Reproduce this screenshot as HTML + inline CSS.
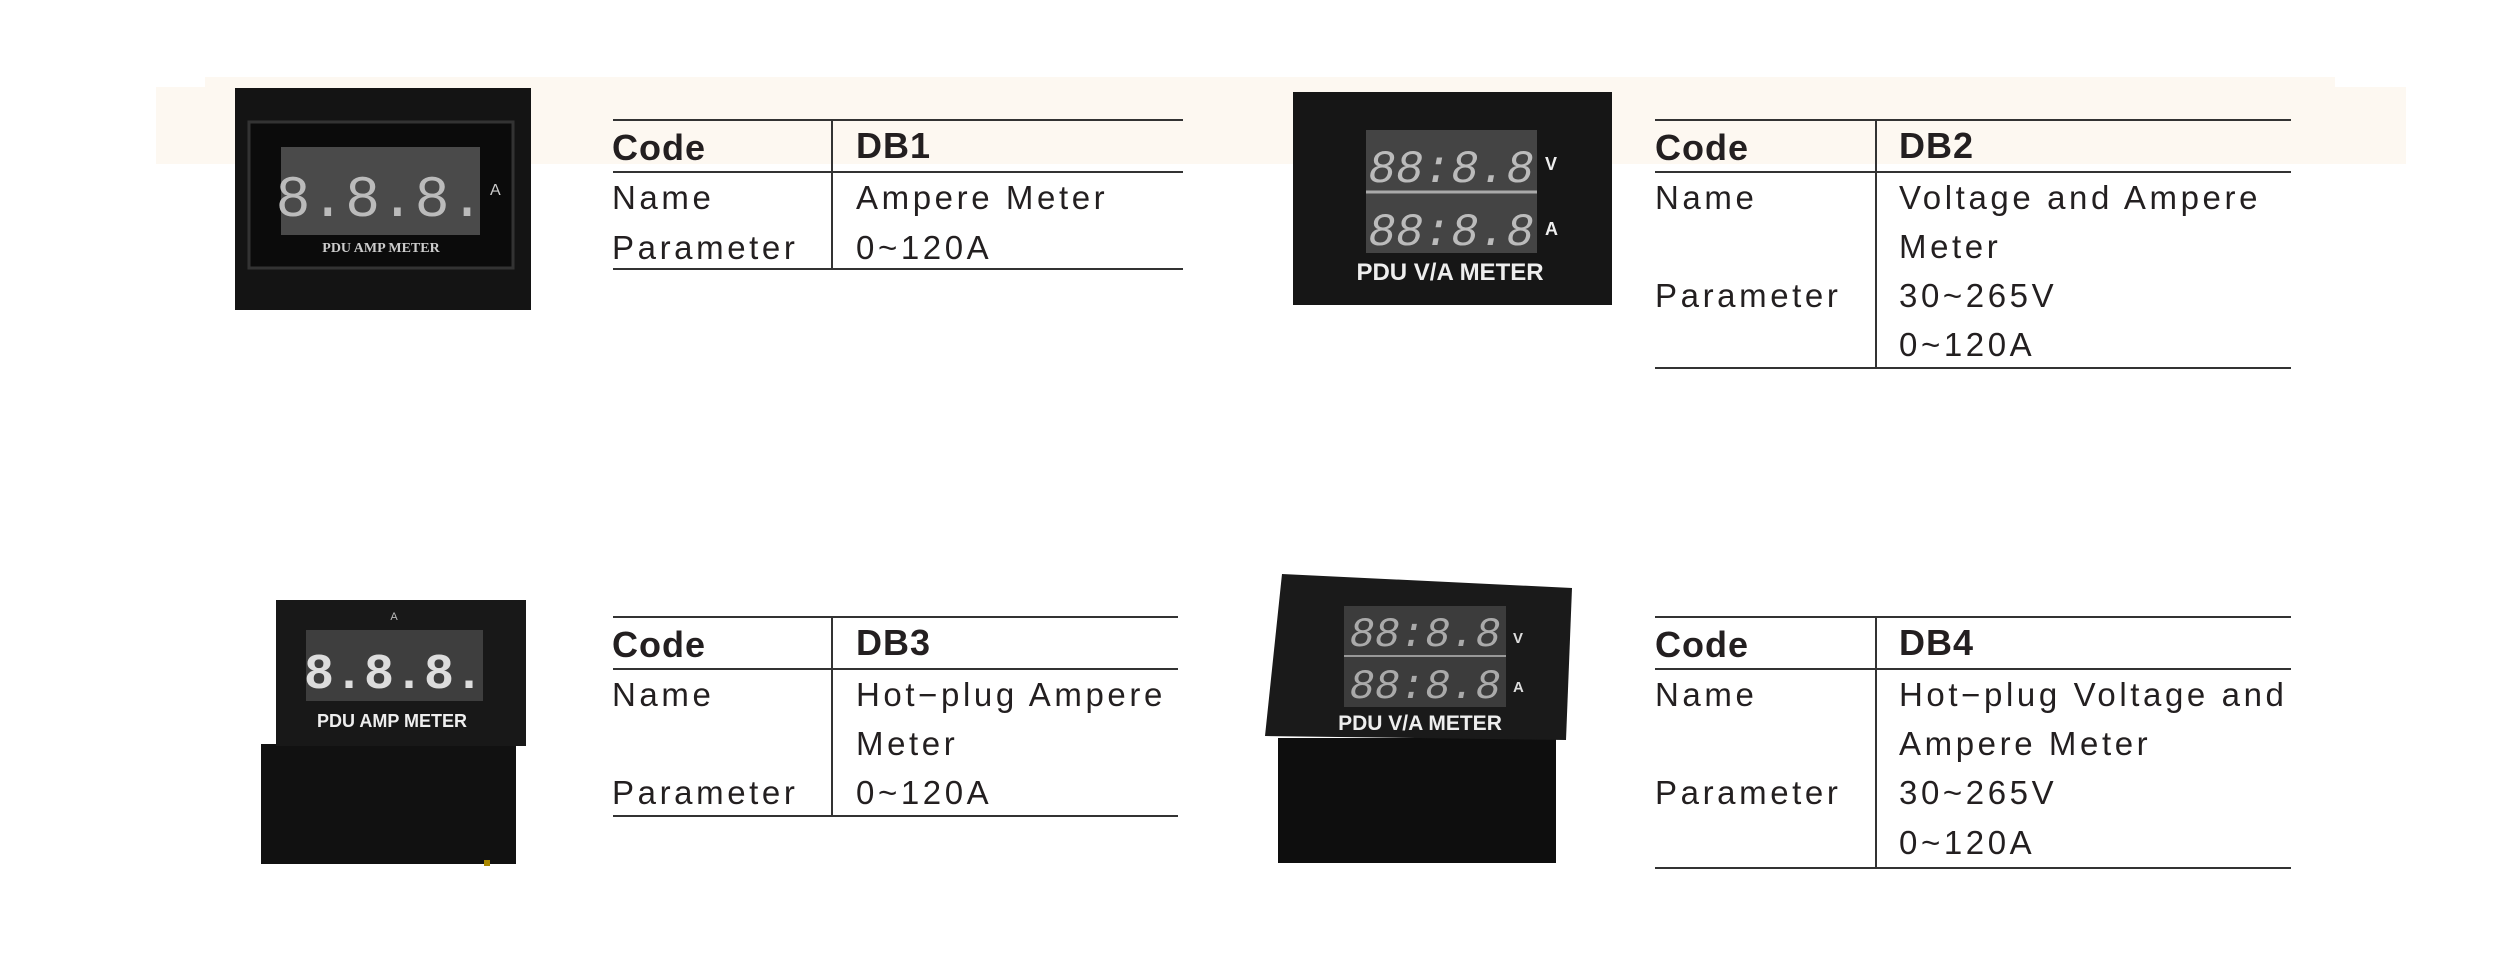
<!DOCTYPE html>
<html><head><meta charset="utf-8"><style>
body{margin:0;width:2515px;height:966px;background:#fff;position:relative;overflow:hidden;font-family:"Liberation Sans",sans-serif;color:#231f20}
.band{position:absolute;background:#fdf8f1}
.t{position:absolute;font-size:33px;letter-spacing:3.6px;line-height:50px;white-space:nowrap}
.b{font-weight:bold;font-size:36px;letter-spacing:1px}
.h{position:absolute;height:2px;background:#333}
.v{position:absolute;width:2px;background:#333}
svg{position:absolute;left:0;top:0}
</style></head><body>
<div class="band" style="left:205px;top:77px;width:2130px;height:10px"></div>
<div class="band" style="left:156px;top:87px;width:2250px;height:77px"></div>
<svg width="2515" height="966" font-family="Liberation Sans, sans-serif">
<!-- DB1 -->
<rect x="235" y="88" width="296" height="222" fill="#141414"/>
<rect x="249" y="122" width="264" height="146" fill="#0b0b0b" stroke="#333" stroke-width="3"/>
<rect x="281" y="147" width="199" height="88" fill="#4a4a4a"/>
<text x="380" y="216" fill="#bbb" font-size="58" text-anchor="middle" font-family="Liberation Mono">8.8.8.</text>
<text x="490" y="195" fill="#ccc" font-size="16">A</text>
<text x="381" y="252" fill="#ccc" font-size="14" text-anchor="middle" font-family="Liberation Serif" font-weight="bold">PDU AMP METER</text>
<!-- DB2 -->
<rect x="1293" y="92" width="319" height="213" fill="#161616"/>
<rect x="1366" y="130" width="171" height="123" fill="#444"/>
<line x1="1366" y1="192" x2="1537" y2="192" stroke="#aaa" stroke-width="3"/>
<text x="1451" y="182" fill="#bbb" font-size="46" text-anchor="middle" font-family="Liberation Mono" font-style="italic">88:8.8</text>
<text x="1451" y="245" fill="#bbb" font-size="46" text-anchor="middle" font-family="Liberation Mono" font-style="italic">88:8.8</text>
<text x="1545" y="170" fill="#eee" font-size="18" font-weight="bold">V</text>
<text x="1545" y="235" fill="#eee" font-size="18" font-weight="bold">A</text>
<text x="1450" y="280" fill="#eee" font-size="24" font-weight="bold" text-anchor="middle">PDU V/A METER</text>
<!-- DB3 -->
<rect x="261" y="744" width="255" height="120" fill="#111"/>
<rect x="276" y="600" width="250" height="146" fill="#181818"/>
<rect x="306" y="630" width="177" height="71" fill="#3e3e3e"/>
<text x="394" y="688" fill="#ddd" font-size="50" text-anchor="middle" font-family="Liberation Mono" font-weight="bold">8.8.8.</text>
<text x="394" y="620" fill="#bbb" font-size="11" text-anchor="middle">A</text>
<text x="392" y="727" fill="#eee" font-size="18" font-weight="bold" text-anchor="middle">PDU AMP METER</text>
<rect x="484" y="860" width="6" height="6" fill="#a80"/>
<!-- DB4 -->
<rect x="1278" y="738" width="278" height="125" fill="#0e0e0e"/>
<polygon points="1282,574 1572,588 1566,740 1265,736" fill="#1a1a1a"/>
<rect x="1344" y="606" width="162" height="101" fill="#3c3c3c"/>
<line x1="1344" y1="656" x2="1506" y2="656" stroke="#999" stroke-width="2"/>
<text x="1425" y="646" fill="#aaa" font-size="42" text-anchor="middle" font-family="Liberation Mono" font-style="italic">88:8.8</text>
<text x="1425" y="698" fill="#aaa" font-size="42" text-anchor="middle" font-family="Liberation Mono" font-style="italic">88:8.8</text>
<text x="1513" y="643" fill="#ddd" font-size="15" font-weight="bold">V</text>
<text x="1513" y="692" fill="#ddd" font-size="15" font-weight="bold">A</text>
<text x="1420" y="730" fill="#eee" font-size="21" font-weight="bold" text-anchor="middle">PDU V/A METER</text>
</svg>

<!-- Table DB1 -->
<div class="h" style="left:613px;top:119px;width:570px"></div>
<div class="h" style="left:613px;top:171px;width:570px"></div>
<div class="h" style="left:613px;top:268px;width:570px"></div>
<div class="v" style="left:831px;top:120px;height:149px"></div>
<div class="t b" style="left:612px;top:123px">Code</div>
<div class="t b" style="left:856px;top:121px">DB1</div>
<div class="t" style="left:612px;top:173px">Name</div>
<div class="t" style="left:856px;top:173px">Ampere Meter</div>
<div class="t" style="left:612px;top:223px">Parameter</div>
<div class="t" style="left:856px;top:223px">0~120A</div>

<!-- Table DB2 -->
<div class="h" style="left:1655px;top:119px;width:636px"></div>
<div class="h" style="left:1655px;top:171px;width:636px"></div>
<div class="h" style="left:1655px;top:367px;width:636px"></div>
<div class="v" style="left:1875px;top:120px;height:248px"></div>
<div class="t b" style="left:1655px;top:123px">Code</div>
<div class="t b" style="left:1899px;top:121px">DB2</div>
<div class="t" style="left:1655px;top:173px">Name</div>
<div class="t" style="left:1899px;top:173px">Voltage and Ampere</div>
<div class="t" style="left:1899px;top:222px">Meter</div>
<div class="t" style="left:1655px;top:271px">Parameter</div>
<div class="t" style="left:1899px;top:271px">30~265V</div>
<div class="t" style="left:1899px;top:320px">0~120A</div>

<!-- Table DB3 -->
<div class="h" style="left:613px;top:616px;width:565px"></div>
<div class="h" style="left:613px;top:668px;width:565px"></div>
<div class="h" style="left:613px;top:815px;width:565px"></div>
<div class="v" style="left:831px;top:617px;height:199px"></div>
<div class="t b" style="left:612px;top:620px">Code</div>
<div class="t b" style="left:856px;top:618px">DB3</div>
<div class="t" style="left:612px;top:670px">Name</div>
<div class="t" style="left:856px;top:670px">Hot−plug Ampere</div>
<div class="t" style="left:856px;top:719px">Meter</div>
<div class="t" style="left:612px;top:768px">Parameter</div>
<div class="t" style="left:856px;top:768px">0~120A</div>

<!-- Table DB4 -->
<div class="h" style="left:1655px;top:616px;width:636px"></div>
<div class="h" style="left:1655px;top:668px;width:636px"></div>
<div class="h" style="left:1655px;top:867px;width:636px"></div>
<div class="v" style="left:1875px;top:617px;height:251px"></div>
<div class="t b" style="left:1655px;top:620px">Code</div>
<div class="t b" style="left:1899px;top:618px">DB4</div>
<div class="t" style="left:1655px;top:670px">Name</div>
<div class="t" style="left:1899px;top:670px">Hot−plug Voltage and</div>
<div class="t" style="left:1899px;top:719px">Ampere Meter</div>
<div class="t" style="left:1655px;top:768px">Parameter</div>
<div class="t" style="left:1899px;top:768px">30~265V</div>
<div class="t" style="left:1899px;top:818px">0~120A</div>
</body></html>
